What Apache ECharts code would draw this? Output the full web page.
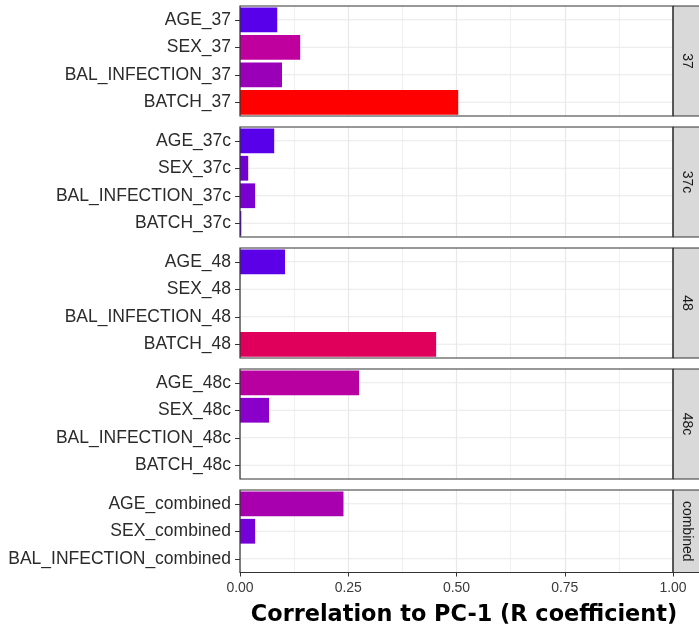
<!DOCTYPE html>
<html><head><meta charset="utf-8">
<script src="https://cdn.jsdelivr.net/npm/echarts@6/dist/echarts.min.js"></script>
<style>html,body{margin:0;padding:0;background:#fff}#c{width:699px;height:642px}</style>
</head><body><div id="c"></div>
<script>
// ---- data ----
const panelNames = ['37', '37c', '48', '48c', 'combined'];

const cats37 = ['AGE_37', 'SEX_37', 'BAL_INFECTION_37', 'BATCH_37'];
const vals37 = [0.086, 0.139, 0.097, 0.504];
const fill37 = ['#5800ea', '#c0009e', '#9a00b8', '#ff0000'];

const cats37c = ['AGE_37c', 'SEX_37c', 'BAL_INFECTION_37c', 'BATCH_37c'];
const vals37c = [0.079, 0.019, 0.035, 0.003];
const fill37c = ['#5800ea', '#7000d2', '#7a00d2', '#5800ea'];

const cats48 = ['AGE_48', 'SEX_48', 'BAL_INFECTION_48', 'BATCH_48'];
const vals48 = [0.104, 0, 0, 0.453];
const fill48 = ['#5c00e8', '#5c00e8', '#5c00e8', '#e0005c'];

const cats48c = ['AGE_48c', 'SEX_48c', 'BAL_INFECTION_48c', 'BATCH_48c'];
const vals48c = [0.275, 0.067, 0, 0];
const fill48c = ['#b800a0', '#8a00ca', '#5c00e8', '#5c00e8'];

const catsComb = ['AGE_combined', 'SEX_combined', 'BAL_INFECTION_combined'];
const valsComb = [0.239, 0.035, 0];
const fillComb = ['#a800ae', '#7600d8', '#5c00e8'];

const xTicks = [0, 0.25, 0.5, 0.75, 1];
const xTitle = 'Correlation to PC-1 (R coefficient)';

const panelCats = [cats37, cats37c, cats48, cats48c, catsComb];
const panelVals = [vals37, vals37c, vals48, vals48c, valsComb];
const panelFill = [fill37, fill37c, fill48, fill48c, fillComb];

// ---- layout ----
const TOP = 6, ROW = 27.5, GAP = 11, LEFT = 240, PW = 433, STRIP = 30;

const grids = [], xAxes = [], yAxes = [], series = [], graphics = [];
let cur = TOP;
const last = panelNames.length - 1;
panelNames.forEach((name, i) => {
  const cats = panelCats[i];
  const h = cats.length * ROW;
  grids.push({ left: LEFT, top: cur, width: PW, height: h, show: false, containLabel: false });
  xAxes.push({
    gridIndex: i, type: 'value', min: xTicks[0], max: xTicks[xTicks.length - 1],
    interval: xTicks[1] - xTicks[0],
    axisLine: { show: false },
    axisTick: { show: i === last, length: 4, lineStyle: { color: '#333', width: 1 } },
    axisLabel: { show: i === last, formatter: v => v.toFixed(2), fontSize: 14, color: '#3a3a3a',
      margin: 9, fontFamily: 'Liberation Sans, Arial, sans-serif' },
    splitLine: { show: true, lineStyle: { color: '#e8e8e8', width: 1.2 } },
    minorTick: { show: false, splitNumber: 2 },
    minorSplitLine: { show: true, lineStyle: { color: '#eeeeee', width: 0.9 } }
  });
  yAxes.push({
    gridIndex: i, type: 'category', data: cats, inverse: true,
    axisLine: { show: false },
    axisTick: { show: true, alignWithLabel: true, length: 5, lineStyle: { color: '#333', width: 1 } },
    axisLabel: { fontSize: 17.5, color: '#2b2b2b', margin: 9, fontFamily: 'Liberation Sans, Arial, sans-serif' },
    splitLine: { show: false }
  });
  // horizontal grid lines at category centres
  series.push({
    type: 'custom', xAxisIndex: i, yAxisIndex: i, silent: true, z: 1,
    data: cats.map(c => [c]),
    encode: { y: 0 },
    renderItem: (params, api) => {
      const c = api.value(0);
      const p0 = api.coord([xTicks[0], c]);
      const p1 = api.coord([xTicks[xTicks.length - 1], c]);
      return { type: 'line', shape: { x1: p0[0], y1: p0[1], x2: p1[0], y2: p1[1] },
        style: { stroke: '#e8e8e8', lineWidth: 1.2 } };
    }
  });
  series.push({
    type: 'bar', xAxisIndex: i, yAxisIndex: i, barWidth: '90%', z: 2,
    data: panelVals[i].map((v, k) => ({ value: v, itemStyle: { color: panelFill[i][k] } }))
  });
  // panel border
  graphics.push({ type: 'rect', z: 100, silent: true,
    shape: { x: LEFT, y: cur, width: PW, height: h },
    style: { fill: 'none', stroke: '#333', lineWidth: 1.2 } });
  // strip
  graphics.push({ type: 'rect', z: 99, silent: true,
    shape: { x: LEFT + PW, y: cur, width: STRIP, height: h },
    style: { fill: '#d9d9d9', stroke: '#333', lineWidth: 1 } });
  graphics.push({ type: 'text', z: 101, silent: true,
    x: LEFT + PW + 13.5, y: cur + h / 2, rotation: -Math.PI / 2,
    style: { text: name, fill: '#1a1a1a', font: '14px "Liberation Sans", Arial, sans-serif',
      textAlign: 'center', textVerticalAlign: 'middle' } });
  cur += h + GAP;
});

graphics.push({ type: 'text', z: 101, silent: true, x: 464, y: 615,
  style: { text: xTitle, fill: '#000', font: 'bold 22.4px "DejaVu Sans", sans-serif',
    textAlign: 'center', textVerticalAlign: 'middle' } });

const chart = echarts.init(document.getElementById('c'), null, { renderer: 'canvas' });
chart.setOption({
  animation: false,
  backgroundColor: '#fff',
  grid: grids, xAxis: xAxes, yAxis: yAxes, series: series,
  graphic: { elements: graphics }
});
</script></body></html>
